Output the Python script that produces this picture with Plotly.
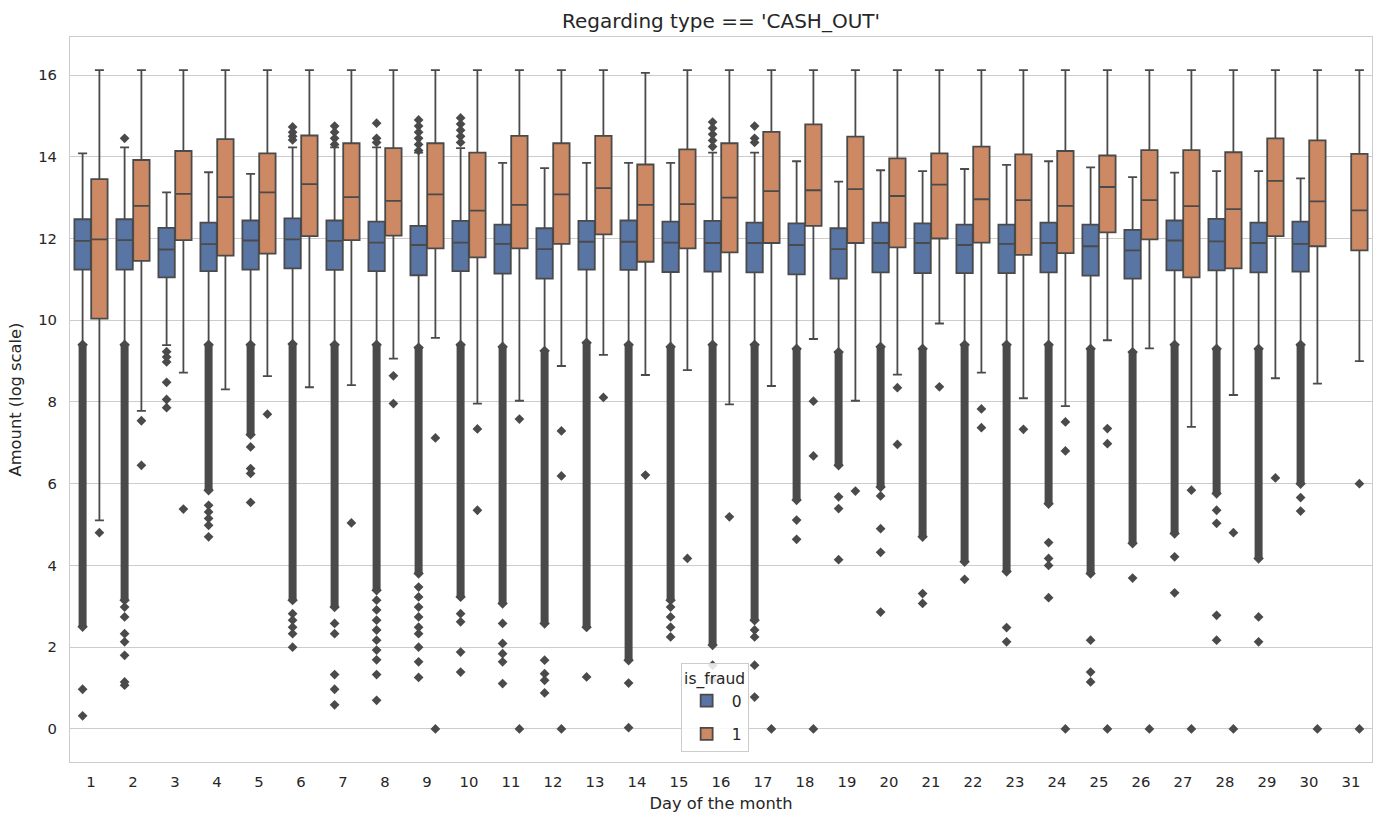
import plotly.graph_objects as go

# ---------------- data ----------------
days = list(range(1, 32))
days_legit = list(range(1, 31))  # is_fraud == 0 has no data for day 31

# is_fraud == 0 box statistics (log amount)
legit_upper = [14.08, 14.23, 13.13, 13.62, 13.58, 14.23, 14.23, 14.23, 14.10, 14.21,
               13.85, 13.72, 13.85, 13.85, 13.85, 14.10, 14.10, 13.89, 13.39, 13.67,
               13.65, 13.70, 13.80, 13.89, 13.74, 13.50, 13.61, 13.65, 13.65, 13.47]
legit_q3 = [12.47, 12.47, 12.26, 12.39, 12.44, 12.49, 12.44, 12.41, 12.31, 12.43,
            12.34, 12.25, 12.43, 12.44, 12.41, 12.43, 12.39, 12.37, 12.25, 12.39,
            12.37, 12.34, 12.34, 12.39, 12.34, 12.21, 12.44, 12.48, 12.39, 12.41]
legit_median = [11.94, 11.96, 11.73, 11.86, 11.95, 11.98, 11.94, 11.90, 11.84, 11.90,
                11.87, 11.74, 11.92, 11.92, 11.90, 11.89, 11.89, 11.84, 11.74, 11.89,
                11.89, 11.84, 11.87, 11.89, 11.81, 11.71, 11.95, 11.93, 11.89, 11.87]
legit_q1 = [11.24, 11.24, 11.05, 11.20, 11.24, 11.27, 11.23, 11.20, 11.10, 11.20,
            11.14, 11.02, 11.24, 11.23, 11.18, 11.19, 11.17, 11.12, 11.02, 11.17,
            11.15, 11.15, 11.15, 11.17, 11.09, 11.02, 11.22, 11.22, 11.17, 11.19]
legit_lower = [9.40, 9.40, 9.39, 9.40, 9.40, 9.42, 9.40, 9.40, 9.33, 9.40,
               9.35, 9.25, 9.45, 9.40, 9.35, 9.40, 9.40, 9.30, 9.22, 9.35,
               9.30, 9.40, 9.40, 9.40, 9.30, 9.22, 9.40, 9.30, 9.30, 9.40]

# is_fraud == 0: ranges densely packed with outliers (top, bottom); None = no dense range
legit_dense_top = [9.40, 9.40, None, 9.40, 9.40, 9.42, 9.40, 9.40, 9.33, 9.40,
                   9.35, 9.25, 9.45, 9.40, 9.35, 9.40, 9.40, 9.30, 9.22, 9.35,
                   9.30, 9.40, 9.40, 9.40, 9.30, 9.22, 9.40, 9.30, 9.30, 9.40]
legit_dense_bottom = [2.50, 3.15, None, 5.84, 7.20, 3.15, 2.98, 3.39, 3.80, 3.23,
                      3.07, 2.58, 2.49, 1.68, 3.15, 2.05, 2.66, 5.60, 6.45, 5.92,
                      4.70, 4.09, 3.85, 5.51, 3.80, 4.54, 4.78, 5.76, 4.17, 6.00]
# is_fraud == 0: individual outliers below the lower whisker
legit_low_outliers = [
    [0.97, 0.32],
    [2.98, 2.74, 2.33, 2.13, 1.80, 1.15, 1.07],
    [9.23, 9.10, 8.98, 8.48, 8.06, 7.86],
    [5.47, 5.31, 5.15, 4.98, 4.70],
    [6.90, 6.37, 6.25, 5.54],
    [2.82, 2.66, 2.49, 2.33, 2.00],
    [2.58, 2.33, 1.33, 0.97, 0.59],
    [3.15, 2.91, 2.66, 2.42, 2.17, 1.93, 1.69, 1.33, 0.70],
    [3.47, 3.23, 2.98, 2.74, 2.49, 2.33, 2.00, 1.64, 1.26],
    [2.82, 2.62, 1.88, 1.39],
    [2.58, 2.09, 1.84, 1.64, 1.11],
    [1.68, 1.35, 1.19, 0.88],
    [1.27],
    [1.12, 0.03],
    [2.98, 2.74, 2.49, 2.25],
    [1.56, 1.20],
    [2.42, 2.25, 1.56, 0.78],
    [5.11, 4.64],
    [5.68, 5.39, 4.14],
    [5.70, 4.90, 4.32, 2.86],
    [3.31, 3.07],
    [3.66],
    [2.48, 2.13],
    [4.56, 4.17, 4.00, 3.21],
    [2.17, 1.39, 1.15],
    [3.69],
    [4.21, 3.33],
    [5.35, 5.03, 2.78, 2.17],
    [2.74, 2.13],
    [5.66, 5.33],
]
# is_fraud == 0: individual outliers above the upper whisker
legit_high_outliers = [
    [], [14.45], [], [], [], [14.73, 14.60, 14.50, 14.41], [14.75, 14.60, 14.45, 14.30],
    [14.82, 14.45, 14.35], [14.90, 14.75, 14.60, 14.45, 14.30, 14.15],
    [14.95, 14.80, 14.65, 14.50, 14.35], [], [], [], [], [],
    [14.85, 14.70, 14.55, 14.40, 14.25], [14.75, 14.45, 14.35],
    [], [], [], [], [], [], [], [], [], [], [], [], [],
]

# is_fraud == 1 box statistics
fraud_upper = [16.12, 16.12, 16.12, 16.12, 16.12, 16.12, 16.12, 16.12, 16.12, 16.12,
               16.12, 16.12, 16.12, 16.05, 16.12, 16.12, 16.12, 16.12, 16.12, 16.12,
               16.12, 16.12, 16.12, 16.12, 16.12, 16.12, 16.12, 16.12, 16.12, 16.12, 16.12]
fraud_q3 = [13.45, 13.92, 14.14, 14.43, 14.08, 14.52, 14.33, 14.21, 14.33, 14.10,
            14.51, 14.33, 14.51, 13.81, 14.18, 14.33, 14.61, 14.79, 14.49, 13.96,
            14.08, 14.25, 14.06, 14.14, 14.03, 14.16, 14.16, 14.11, 14.45, 14.40, 14.07]
fraud_median = [11.98, 12.80, 13.09, 13.01, 13.13, 13.33, 13.01, 12.92, 13.08, 12.68,
                12.82, 13.08, 13.23, 12.82, 12.84, 13.00, 13.16, 13.18, 13.21, 13.04,
                13.32, 12.96, 12.94, 12.80, 13.26, 12.94, 12.79, 12.72, 13.41, 12.91, 12.69]
fraud_q1 = [10.04, 11.45, 11.96, 11.58, 11.63, 12.06, 11.96, 12.07, 11.76, 11.54,
            11.76, 11.87, 12.10, 11.43, 11.76, 11.66, 11.89, 12.31, 11.89, 11.78,
            12.00, 11.90, 11.60, 11.64, 12.15, 11.98, 11.05, 11.27, 12.06, 11.81, 11.71]
fraud_lower = [5.10, 7.78, 8.72, 8.31, 8.63, 8.36, 8.41, 9.06, 9.57, 7.96,
               8.03, 8.88, 9.15, 8.66, 8.78, 7.94, 8.39, 9.54, 8.03, 8.67,
               9.92, 8.72, 8.09, 7.90, 9.51, 9.31, 7.39, 8.17, 8.58, 8.45, 9.00]
fraud_outliers = [
    [4.80], [7.54, 6.45], [5.38], [], [7.70], [], [5.04], [8.64, 7.96], [7.12, 0.0],
    [7.34, 5.35], [7.58, 0.0], [7.29, 6.19, 0.0], [8.11], [6.21], [4.17], [5.19],
    [0.0], [8.02, 6.68, 0.0], [5.82], [8.35, 6.96], [8.37], [7.83, 7.37], [7.33],
    [7.51, 6.80, 0.0], [7.35, 6.98, 0.0], [0.0], [5.84, 0.0], [4.80, 0.0], [6.14],
    [0.0], [6.00, 0.0],
]

# ---------------- styling ----------------
BLUE = "#5975a4"
ORANGE = "#cc8963"
EDGE = "#4a4a4a"
GRID = "#cccccc"
TEXT = "#262626"
FONT = "DejaVu Sans"
HUE_SHIFT = 0.2
BOX_W = 0.39

x_legit = [d - HUE_SHIFT for d in days_legit]
x_fraud = [d + HUE_SHIFT for d in days]

fig = go.Figure()

# dense outlier stripes (drawn first, below the boxes)
sx, sy = [], []
for x, top, bot in zip(x_legit, legit_dense_top, legit_dense_bottom):
    if top is None:
        continue
    sx += [x, x, None]
    sy += [top, bot, None]
fig.add_trace(go.Scatter(x=sx, y=sy, mode="lines", line=dict(color=EDGE, width=8),
                         showlegend=False, hoverinfo="skip"))
# pointed ends of the stripes
ex, ey = [], []
for x, top, bot in zip(x_legit, legit_dense_top, legit_dense_bottom):
    if top is None:
        continue
    ex += [x, x]
    ey += [top, bot]
fig.add_trace(go.Scatter(x=ex, y=ey, mode="markers",
                         marker=dict(symbol="diamond", size=8, color=EDGE, line=dict(width=0)),
                         showlegend=False, hoverinfo="skip"))

fig.add_trace(go.Box(
    name="0", x=x_legit, q1=legit_q1, median=legit_median, q3=legit_q3,
    lowerfence=legit_lower, upperfence=legit_upper, width=BOX_W,
    fillcolor=BLUE, line=dict(color=EDGE, width=1.8), whiskerwidth=0.55,
    boxpoints=False, legendgroup="0",
))
fig.add_trace(go.Box(
    name="1", x=x_fraud, q1=fraud_q1, median=fraud_median, q3=fraud_q3,
    lowerfence=fraud_lower, upperfence=fraud_upper, width=BOX_W,
    fillcolor=ORANGE, line=dict(color=EDGE, width=1.8), whiskerwidth=0.55,
    boxpoints=False, legendgroup="1",
))

# individual outliers
ox, oy = [], []
for x, vals in zip(x_legit, legit_low_outliers):
    ox += [x] * len(vals)
    oy += vals
for x, vals in zip(x_legit, legit_high_outliers):
    ox += [x] * len(vals)
    oy += vals
for x, vals in zip(x_fraud, fraud_outliers):
    ox += [x] * len(vals)
    oy += vals
fig.add_trace(go.Scatter(x=ox, y=oy, mode="markers",
                         marker=dict(symbol="diamond", size=7.5, color=EDGE, line=dict(width=0)),
                         showlegend=False, hoverinfo="skip"))

fig.update_layout(
    width=1383, height=828,
    margin=dict(l=70, r=11, t=37, b=66),
    paper_bgcolor="white", plot_bgcolor="white",
    font=dict(family=FONT, size=15, color=TEXT),
    title=dict(text="Regarding type == 'CASH_OUT'", x=0.5, xref="paper", xanchor="center",
               y=1 - 21 / 828, yref="container", yanchor="middle",
               font=dict(family=FONT, size=20, color=TEXT)),
    boxmode="overlay",
    showlegend=True,
    legend=dict(title=dict(text="is_fraud", side="top center",
                           font=dict(size=15.5, color=TEXT)),
                x=0.469, y=0.0138, xanchor="left", yanchor="bottom",
                bgcolor="rgba(255,255,255,0.85)", bordercolor=GRID, borderwidth=1,
                itemwidth=40,
                font=dict(size=15.5, color=TEXT)),
    xaxis=dict(range=[0.5, 31.5], tickmode="array", tickvals=days,
               ticktext=[str(d) for d in days], showgrid=False, zeroline=False,
               showline=True, linecolor=GRID, linewidth=1, mirror=True, ticks="",
               automargin=False, ticklabelstandoff=6,
               title=dict(text="Day of the month", standoff=8, font=dict(size=16.3, color=TEXT)),
               tickfont=dict(size=14.8, color=TEXT)),
    yaxis=dict(range=[-0.81, 16.93], tickmode="array", tickvals=list(range(0, 17, 2)),
               showgrid=True, gridcolor=GRID, gridwidth=1, zeroline=False,
               showline=True, linecolor=GRID, linewidth=1, mirror=True, ticks="",
               automargin=False, ticklabelstandoff=9,
               title=dict(text="Amount (log scale)", standoff=12, font=dict(size=16.3, color=TEXT)),
               tickfont=dict(size=14.8, color=TEXT)),
)

fig.write_html("out.html", config={"displayModeBar": False},
               post_script="document.body.style.margin='0';document.body.style.padding='0';")
